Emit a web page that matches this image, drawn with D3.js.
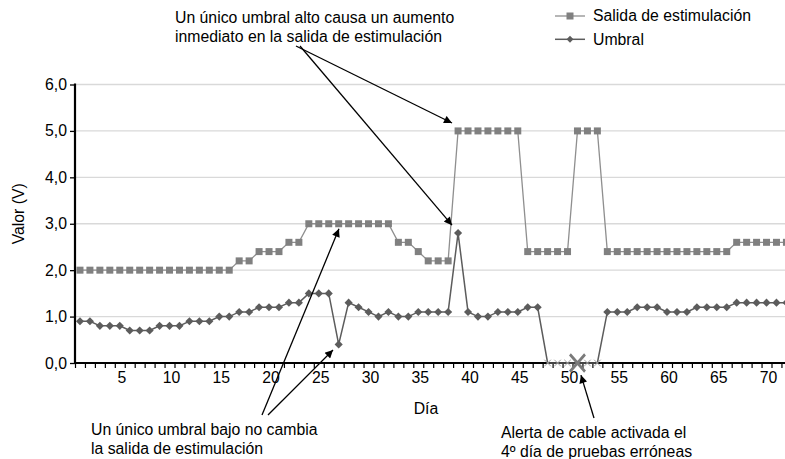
<!DOCTYPE html>
<html><head><meta charset="utf-8">
<script src="https://cdn.jsdelivr.net/npm/d3@7"></script>
<style>
html,body{margin:0;padding:0;background:#fff;}
text{font-family:"Liberation Sans",Arial,sans-serif;}
</style></head>
<body><svg id="chart" width="785" height="459"></svg>
<script>
// ---- data ----
const days = d3.range(1, 73);
const salida = [2.0,2.0,2.0,2.0,2.0,2.0,2.0,2.0,2.0,2.0,2.0,2.0,2.0,2.0,2.0,2.0,2.2,2.2,2.4,2.4,
  2.4,2.6,2.6,3.0,3.0,3.0,3.0,3.0,3.0,3.0,3.0,3.0,2.6,2.6,2.4,2.2,2.2,2.2,5.0,5.0,
  5.0,5.0,5.0,5.0,5.0,2.4,2.4,2.4,2.4,2.4,5.0,5.0,5.0,2.4,2.4,2.4,2.4,2.4,2.4,2.4,
  2.4,2.4,2.4,2.4,2.4,2.4,2.6,2.6,2.6,2.6,2.6,2.6];
const umbral = [0.9,0.9,0.8,0.8,0.8,0.7,0.7,0.7,0.8,0.8,0.8,0.9,0.9,0.9,1.0,1.0,1.1,1.1,1.2,1.2,
  1.2,1.3,1.3,1.5,1.5,1.5,0.4,1.3,1.2,1.1,1.0,1.1,1.0,1.0,1.1,1.1,1.1,1.1,2.8,1.1,
  1.0,1.0,1.1,1.1,1.1,1.2,1.2,0.0,0.0,0.0,0.0,0.0,0.0,1.1,1.1,1.1,1.2,1.2,1.2,1.1,
  1.1,1.1,1.2,1.2,1.2,1.2,1.3,1.3,1.3,1.3,1.3,1.3];
const errorDays = [48,49,50,51,52,53];
const alertDay = 51;
const yTicks = [0,1,2,3,4,5,6];
const xTickLabels = [5,10,15,20,25,30,35,40,45,50,55,60,65,70];
const seriesNames = ["Salida de estimulación","Umbral"];
const yTitle = "Valor (V)";
const xTitle = "Día";
const noteTop = ["Un único umbral alto causa un aumento","inmediato en la salida de estimulación"];
const noteLow = ["Un único umbral bajo no cambia","la salida de estimulación"];
const noteAlert = ["Alerta de cable activada el","4º día de pruebas erróneas"];

// ---- layout ----
const svg = d3.select("#chart");
const FS = 15.8;
const x = d3.scaleLinear().domain([0.5, 72.5]).range([75, 75 + 72 * 9.95]);
const y = d3.scaleLinear().domain([0, 6]).range([363, 84.5]);
const right = 785;

// gridlines
svg.append("g").selectAll("line").data(yTicks.filter(d => d > 0)).join("line")
  .attr("x1", 76).attr("x2", right).attr("y1", d => y(d)).attr("y2", d => y(d))
  .attr("stroke", "#d9d9d9").attr("stroke-width", 1.3);

// y axis
const yAxis = d3.axisLeft(y).tickValues(yTicks).tickSize(5).tickPadding(3)
  .tickFormat(d => d3.format(".1f")(d).replace(".", ","));
const gy = svg.append("g").attr("transform", "translate(75,0)").call(yAxis);
gy.select(".domain").remove();
gy.selectAll(".tick line").attr("stroke", "#000").attr("stroke-width", 1.3);
gy.selectAll(".tick text").attr("font-size", FS).attr("fill", "#000")
  .attr("font-family", "Liberation Sans, Arial, sans-serif");

// x axis ticks (category boundaries)
const boundaries = d3.range(0, 73).map(k => k + 0.5);
const xAxis = d3.axisBottom(x).tickValues(boundaries).tickSize(5).tickFormat("");
const gx = svg.append("g").attr("transform", "translate(0,363)").call(xAxis);
gx.select(".domain").remove();
gx.selectAll(".tick line").attr("stroke", "#000").attr("stroke-width", 1.2);
// x labels
const xLab = d3.axisBottom(x).tickValues(xTickLabels).tickSize(0).tickPadding(9);
const gl = svg.append("g").attr("transform", "translate(1.5,363)").call(xLab);
gl.select(".domain").remove();
gl.selectAll(".tick text").attr("font-size", FS).attr("fill", "#000")
  .attr("font-family", "Liberation Sans, Arial, sans-serif");

// axis lines
svg.append("line").attr("x1", 75).attr("x2", 75).attr("y1", y(6) - 1).attr("y2", y(0) + 1)
  .attr("stroke", "#000").attr("stroke-width", 2.2);
svg.append("line").attr("x1", 74).attr("x2", right).attr("y1", y(0)).attr("y2", y(0))
  .attr("stroke", "#000").attr("stroke-width", 2.2);

// titles
svg.append("text").attr("transform", `translate(24,${(y(6) + y(0)) / 2 - 10}) rotate(-90)`)
  .attr("text-anchor", "middle").attr("font-size", FS).text(yTitle);
svg.append("text").attr("x", 426).attr("y", 414).attr("text-anchor", "middle")
  .attr("font-size", FS).text(xTitle);

// series lines
const colS = "#808080", colSL = "#8f8f8f", colU = "#5c5c5c";
const line = d3.line().x((d, i) => x(days[i])).y(d => y(d));
svg.append("path").datum(salida).attr("d", line).attr("fill", "none")
  .attr("stroke", colSL).attr("stroke-width", 1.3);
svg.append("path").datum(umbral).attr("d", line).attr("fill", "none")
  .attr("stroke", colU).attr("stroke-width", 1.5);

// markers
svg.append("g").selectAll("rect").data(salida).join("rect")
  .attr("x", (d, i) => x(days[i]) - 3.5).attr("y", d => y(d) - 3.5)
  .attr("width", 7).attr("height", 7).attr("fill", colS);
const diamond = d3.symbol().type(d3.symbolDiamond2).size(42);
const umbralPts = days.map((d, i) => ({day: d, v: umbral[i]}));
svg.append("g").selectAll("path").data(umbralPts.filter(p => !errorDays.includes(p.day))).join("path")
  .attr("d", diamond).attr("transform", p => `translate(${x(p.day)},${y(p.v)})`)
  .attr("fill", colU);
svg.append("g").selectAll("path").data(umbralPts.filter(p => errorDays.includes(p.day))).join("path")
  .attr("d", d3.symbol().type(d3.symbolX).size(30))
  .attr("transform", p => `translate(${x(p.day)},${y(p.v)})`)
  .attr("fill", "none").attr("stroke", "#a0a0a0").attr("stroke-width", 1);
// big alert X
svg.append("path").attr("d", d3.symbol().type(d3.symbolX).size(150))
  .attr("transform", `translate(${x(alertDay)},${y(0)}) scale(1,1.15)`)
  .attr("fill", "none").attr("stroke", "#7a7a7a").attr("stroke-width", 2.6);

// legend
const leg = svg.append("g");
seriesNames.forEach((name, i) => {
  const ly = 16 + i * 23.3;
  leg.append("line").attr("x1", 555).attr("x2", 585).attr("y1", ly).attr("y2", ly)
    .attr("stroke", i === 0 ? colSL : colU).attr("stroke-width", i === 0 ? 1.3 : 1.5);
  if (i === 0) leg.append("rect").attr("x", 566.5).attr("y", ly - 3.5).attr("width", 7).attr("height", 7).attr("fill", colS);
  else leg.append("path").attr("d", d3.symbol().type(d3.symbolDiamond2).size(30)).attr("transform", `translate(570,${ly})`).attr("fill", colU);
  leg.append("text").attr("x", 593).attr("y", ly + 5.3).attr("font-size", FS).text(name);
});

// annotations
function textBlock(lines, x0, y0, dy) {
  const t = svg.append("text").attr("font-size", FS);
  lines.forEach((l, i) => t.append("tspan").attr("x", x0).attr("y", y0 + i * dy).text(l));
}
textBlock(noteTop, 175, 22.5, 19);
textBlock(noteLow, 91, 435, 18.5);
textBlock(noteAlert, 501, 438, 19);

svg.append("defs").append("marker").attr("id", "ah").attr("viewBox", "0 0 10 10")
  .attr("refX", 10).attr("refY", 5).attr("markerWidth", 10).attr("markerHeight", 8)
  .attr("markerUnits", "userSpaceOnUse").attr("orient", "auto")
  .append("path").attr("d", "M0,0 L10,5 L0,10 z").attr("fill", "#000");
const arrows = [
  {x1: 296, y1: 46, day: 38.39, v: 5.17},
  {x1: 300, y1: 46, day: 38.39, v: 2.97},
  {x1: 262, y1: 415, day: 27.03, v: 2.89},
  {x1: 268, y1: 415, day: 26.43, v: 0.28},
  {x1: 594, y1: 418, day: 51.35, v: -0.26}
];
svg.append("g").selectAll("line").data(arrows).join("line")
  .attr("x1", d => d.x1).attr("y1", d => d.y1)
  .attr("x2", d => x(d.day)).attr("y2", d => y(d.v))
  .attr("stroke", "#000").attr("stroke-width", 1.3).attr("marker-end", "url(#ah)");
</script></body></html>
